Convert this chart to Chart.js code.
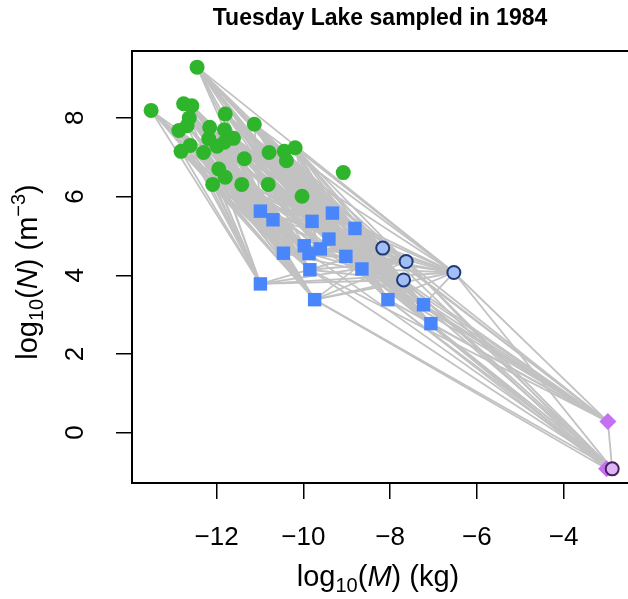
<!DOCTYPE html>
<html>
<head>
<meta charset="utf-8">
<script src="https://cdn.jsdelivr.net/npm/chart.js@4.4.1/dist/chart.umd.min.js"></script>
<style>
  html, body { margin: 0; padding: 0; background: #fff; overflow: hidden; }
  #wrap { width: 640px; height: 599px; }
</style>
</head>
<body>
<div id="wrap"><canvas id="myChart" width="640" height="599"></canvas></div>
<script>
// Tuesday Lake 1984: log10(M) vs log10(N)

// producers (green circles)
const greenX = [-13.51, -12.45, -12.76, -12.57, -11.80, -12.63, -11.13, -12.87, -12.68, -12.16,
                -11.82, -12.18, -11.99, -11.82, -11.61, -12.61, -12.82, -12.30, -11.36, -10.79,
                -10.44, -10.19, -10.39, -11.95, -11.80, -12.09, -11.42, -10.81, -9.08, -10.03];
const greenY = [8.19, 9.29, 8.36, 8.31, 8.10, 8.00, 7.84, 7.68, 7.80, 7.76,
                7.70, 7.47, 7.28, 7.38, 7.48, 7.30, 7.15, 7.12, 6.96, 7.12,
                7.15, 7.24, 6.91, 6.70, 6.49, 6.31, 6.31, 6.31, 6.61, 6.01];

// invertebrates (blue squares)
const squareX = [-10.99, -10.70, -9.80, -9.33, -8.81, -9.41, -9.98, -9.61, -9.87, -10.46,
                 -9.02, -9.85, -8.65, -10.99, -9.74, -8.05, -7.23, -7.06];
const squareY = [5.63, 5.41, 5.37, 5.58, 5.19, 4.92, 4.75, 4.67, 4.55, 4.56,
                 4.48, 4.14, 4.16, 3.78, 3.38, 3.38, 3.25, 2.77];

// predators (light blue circles)
const circleX = [-8.17, -7.63, -7.69, -6.53];
const circleY = [4.69, 4.35, 3.88, 4.07];

// fish (purple)
const diamondX = [-2.98, -3.01];
const diamondY = [0.28, -0.92];
const fishX = [-2.88];
const fishY = [-0.92];

// axes
const xMin = -13.95, xMax = -2.47;
const yMin = -1.28, yMax = 9.70;
const xTicks = [-12, -10, -8, -6, -4];
const yTicks = [0, 2, 4, 6, 8];

// trophic links: consumer -> resources
const squareDiet = [
  [1, 2, 3, 4, 5, 6, 8, 9, 10, 11, 12, 13, 14, 17, 18, 23, 24, 26],
  [0, 1, 2, 3, 5, 7, 8, 9, 11, 12, 15, 16, 17, 23, 25],
  [1, 3, 4, 6, 9, 10, 12, 13, 14, 18, 19, 20, 21, 22, 24, 26, 27, 29],
  [1, 2, 4, 6, 10, 13, 14, 18, 19, 20, 21, 22, 27, 29],
  [1, 4, 6, 14, 18, 19, 20, 21, 22, 26, 27, 29],
  [0, 1, 2, 3, 4, 5, 6, 9, 10, 12, 13, 14, 18, 19, 20, 21, 22, 24, 26, 27, 29],
  [0, 2, 3, 5, 7, 8, 11, 12, 15, 16, 17, 23, 24, 25, 26],
  [1, 3, 4, 6, 9, 10, 13, 14, 18, 19, 20, 22, 24, 26, 27, 29],
  [0, 2, 5, 7, 8, 9, 11, 12, 15, 16, 17, 23, 25, 26, 27],
  [0, 2, 3, 5, 7, 8, 11, 15, 16, 17, 23, 25],
  [1, 4, 6, 10, 14, 18, 19, 20, 21, 22, 27, 29],
  [0, 1, 2, 3, 5, 7, 8, 9, 11, 12, 13, 15, 16, 17, 23, 24, 25],
  [1, 4, 6, 10, 13, 14, 18, 19, 20, 21, 22, 26, 27, 29],
  [0, 2, 7, 8, 11, 15, 16, 17, 23, 25],
  [0, 2, 3, 5, 7, 9, 11, 12, 15, 16, 17, 24, 25, 26],
  [1, 4, 6, 14, 18, 19, 20, 21, 22, 27, 29],
  [1, 6, 10, 18, 19, 20, 21, 27, 29],
  [1, 4, 6, 14, 18, 19, 20, 22, 27, 29]
];
const circleDietGreen = [
  [1, 6, 19, 20, 21, 27, 29],
  [4, 6, 18, 19, 21],
  [20, 22, 27, 29],
  [1, 6, 19, 21]
];
const circleDietSquare = [
  [0, 1, 2, 3, 5, 6, 7, 8, 9, 11, 13, 14],
  [0, 2, 3, 4, 5, 6, 7, 8, 9, 10, 11, 12, 13, 14],
  [1, 2, 5, 6, 7, 8, 9, 10, 11, 12, 13, 14, 15],
  [0, 2, 3, 4, 5, 7, 10, 12, 13, 14, 15, 16]
];
const diamondDietSquare = [
  [2, 4, 5, 7, 10, 11, 12, 15, 16, 17],
  [10, 12, 14, 15, 17]
];
const diamondDietCircle = [
  [0, 1, 2, 3],
  [1, 2]
];
const fishDietSquare = [[8, 11, 12, 14, 15, 16, 17]];
const fishDietCircle = [[0, 1, 2, 3]];
const fishDietDiamond = [[0]];

const FONT = '"Liberation Sans", Arial, Helvetica, sans-serif';

function pts(xs, ys) {
  return xs.map((x, i) => ({ x: x, y: ys[i] }));
}
const greens = pts(greenX, greenY);
const squares = pts(squareX, squareY);
const circles = pts(circleX, circleY);
const diamonds = pts(diamondX, diamondY);
const fish = pts(fishX, fishY);

// build link list
const links = [];
function addLinks(diets, res, con) {
  diets.forEach((diet, c) => diet.forEach(r => links.push([res[r], con[c]])));
}
addLinks(squareDiet, greens, squares);
addLinks(circleDietGreen, greens, circles);
addLinks(circleDietSquare, squares, circles);
addLinks(diamondDietSquare, squares, diamonds);
addLinks(diamondDietCircle, circles, diamonds);
addLinks(fishDietSquare, squares, fish);
addLinks(fishDietCircle, circles, fish);
addLinks(fishDietDiamond, diamonds, fish);

const datasets = [];
links.forEach(l => {
  datasets.push({
    data: [l[0], l[1]],
    showLine: true,
    borderColor: '#c2c2c2',
    borderWidth: 1.8,
    pointRadius: 0,
    order: 10
  });
});
datasets.push({ data: greens, pointStyle: 'circle', pointRadius: 7.5, backgroundColor: '#2fb52c', borderColor: '#2fb52c', borderWidth: 0, order: 4 });
datasets.push({ data: squares, pointStyle: 'rect', pointRadius: 9.5, backgroundColor: '#4a86fb', borderColor: '#4a86fb', borderWidth: 0, order: 3 });
datasets.push({ data: circles, pointStyle: 'circle', pointRadius: 6.5, backgroundColor: '#a3bdf5', borderColor: '#1d3a78', borderWidth: 2, order: 2 });
datasets.push({ data: diamonds, pointStyle: 'rectRot', pointRadius: 8.5, backgroundColor: '#c470f0', borderColor: '#c470f0', borderWidth: 0, order: 1 });
datasets.push({ data: fish, pointStyle: 'circle', pointRadius: 6.5, backgroundColor: '#dcb6f2', borderColor: '#4a2062', borderWidth: 2, order: 0 });

// draw text parts (sub/superscripts, italics)
function drawRich(ctx, parts, cx, cy, rot) {
  ctx.save();
  ctx.translate(cx, cy);
  ctx.rotate(rot);
  let total = 0;
  parts.forEach(p => { ctx.font = p.font; p.w = ctx.measureText(p.t).width; total += p.w; });
  let x = -total / 2;
  ctx.textAlign = 'left';
  ctx.textBaseline = 'alphabetic';
  ctx.fillStyle = '#000';
  parts.forEach(p => { ctx.font = p.font; ctx.fillText(p.t, x, p.dy || 0); x += p.w; });
  ctx.restore();
}

const textPlugin = {
  id: 'rText',
  beforeDatasetsDraw(chart) {
    const ctx = chart.ctx;
    const a = chart.chartArea;
    ctx.save();
    ctx.strokeStyle = '#000';
    ctx.lineWidth = 2;
    ctx.strokeRect(a.left, a.top, a.right - a.left, a.bottom - a.top);
    ctx.restore();
  },
  afterDraw(chart) {
    const ctx = chart.ctx;
    const xs = chart.scales.x, ys = chart.scales.y;
    ctx.save();
    ctx.fillStyle = '#000';
    // title
    ctx.font = 'bold 23px ' + FONT;
    ctx.textAlign = 'center';
    ctx.textBaseline = 'middle';
    ctx.fillText('Tuesday Lake sampled in 1984', 380, 19);
    // x tick labels
    ctx.font = '26px ' + FONT;
    xTicks.forEach(v => {
      ctx.fillText(String(v).replace('-', '\u2212'), xs.getPixelForValue(v), 538);
    });
    // y tick labels, rotated
    yTicks.forEach(v => {
      ctx.save();
      ctx.translate(76, ys.getPixelForValue(v));
      ctx.rotate(-Math.PI / 2);
      ctx.fillText(String(v), 0, 0);
      ctx.restore();
    });
    ctx.restore();

    const big = '29px ' + FONT, small = '20px ' + FONT, ital = 'italic 29px ' + FONT;
    drawRich(ctx, [
      { t: 'log', font: big }, { t: '10', font: small, dy: 6 }, { t: '(', font: big },
      { t: 'M', font: ital }, { t: ') (kg)', font: big }
    ], 378, 586, 0);
    drawRich(ctx, [
      { t: 'log', font: big }, { t: '10', font: small, dy: 6 }, { t: '(', font: big },
      { t: 'N', font: ital }, { t: ') (m', font: big }, { t: '\u22123', font: small, dy: -12 },
      { t: ')', font: big }
    ], 37, 272, -Math.PI / 2);
  }
};

const ctx = document.getElementById('myChart').getContext('2d');
new Chart(ctx, {
  type: 'scatter',
  data: { datasets: datasets },
  options: {
    responsive: false,
    animation: false,
    events: [],
    layout: { autoPadding: false, padding: { left: 116, top: 51, right: 10, bottom: 100 } },
    plugins: { legend: { display: false }, tooltip: { enabled: false } },
    scales: {
      x: {
        type: 'linear', min: xMin, max: xMax,
        afterBuildTicks: s => { s.ticks = xTicks.map(v => ({ value: v })); },
        ticks: { display: false },
        grid: { drawOnChartArea: false, drawTicks: true, tickLength: 16, color: '#000', lineWidth: 1.5 },
        border: { display: false }
      },
      y: {
        type: 'linear', min: yMin, max: yMax,
        afterBuildTicks: s => { s.ticks = yTicks.map(v => ({ value: v })); },
        ticks: { display: false },
        grid: { drawOnChartArea: false, drawTicks: true, tickLength: 16, color: '#000', lineWidth: 1.5 },
        border: { display: false }
      }
    }
  },
  plugins: [textPlugin]
});
</script>
</body>
</html>
